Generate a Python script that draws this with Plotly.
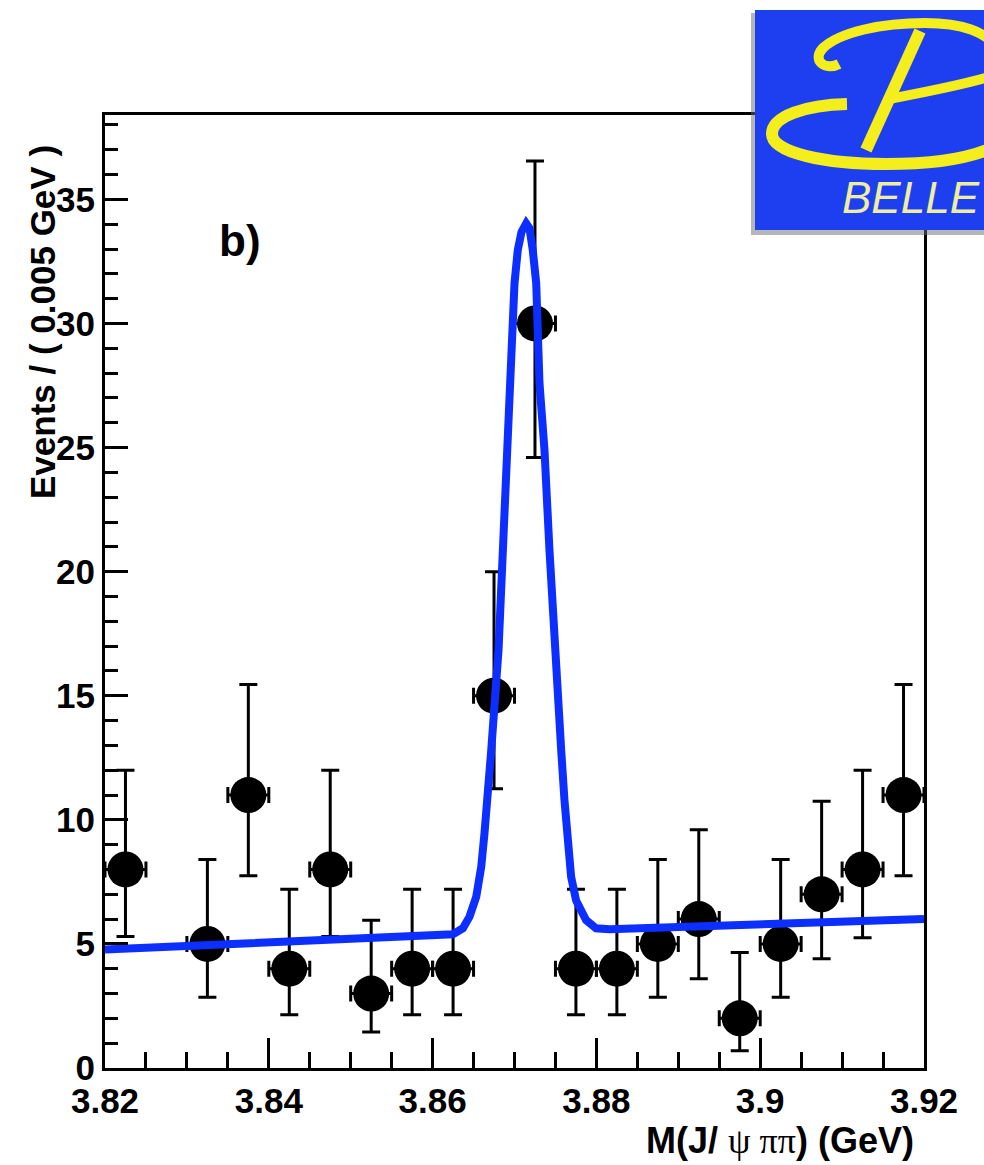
import plotly.graph_objects as go

# ---------------- data ----------------
bin_centers = [3.8225, 3.8325, 3.8375, 3.8425, 3.8475, 3.8525, 3.8575, 3.8625, 3.8675, 3.8725,
               3.8775, 3.8825, 3.8875, 3.8925, 3.8975, 3.9025, 3.9075, 3.9125, 3.9175]
events = [8, 5, 11, 4, 8, 3, 4, 4, 15, 30, 4, 4, 5, 6, 2, 5, 7, 8, 11]
err_plus = [4.0, 3.4, 4.45, 3.2, 4.0, 2.95, 3.2, 3.2, 5.0, 6.55, 3.2, 3.2, 3.4, 3.6, 2.65, 3.4, 3.75, 4.0, 4.45]
err_minus = [2.7, 2.15, 3.25, 1.85, 2.7, 1.55, 1.85, 1.85, 3.75, 5.4, 1.85, 1.85, 2.15, 2.4, 1.3, 2.15, 2.6, 2.75, 3.25]
bin_half_width = [0.0025] * len(bin_centers)

fit_x = [3.8200, 3.86248, 3.86370, 3.86451, 3.86533, 3.86594, 3.86634, 3.86674, 3.86716, 3.86805,
         3.86857, 3.86918, 3.86948, 3.87000, 3.87040, 3.87085, 3.87143, 3.87183, 3.87223, 3.87265,
         3.87305, 3.87366, 3.87427, 3.87488, 3.87570, 3.87610, 3.87650, 3.87691, 3.87752, 3.87874,
         3.87996, 3.88159, 3.9200]
fit_y = [4.77, 5.39, 5.63, 6.10, 6.90, 8.11, 9.47, 10.80, 12.81, 16.84,
         20.87, 24.90, 27.60, 31.62, 32.96, 33.68, 34.03, 33.84, 32.96, 31.63,
         27.60, 24.90, 20.87, 16.84, 12.81, 10.80, 9.05, 7.71, 6.75, 5.96,
         5.63, 5.59, 6.00]

x_tickvals = [3.82, 3.84, 3.86, 3.88, 3.90, 3.92]
x_ticktext = ["3.82", "3.84", "3.86", "3.88", "3.9", "3.92"]
y_tickvals = [0, 5, 10, 15, 20, 25, 30, 35]
y_ticktext = ["0", "5", "10", "15", "20", "25", "30", "35"]

# ---------------- layout geometry ----------------
W, H = 984, 1165
L, R, T, B = 105, 60, 115, 97
PW, PH = W - L - R, H - T - B


def px(x):
    return (x - L) / PW


def py(y):
    return (H - B - y) / PH


def path(cmds):
    out = []
    for c in cmds:
        if isinstance(c, str):
            out.append(c)
        else:
            out.append(f"{px(c[0]):.5f},{py(c[1]):.5f}")
    return " ".join(out)


FONT = "Liberation Sans, Arial, sans-serif"

fig = go.Figure()

fig.add_trace(go.Scatter(
    x=bin_centers, y=events, mode="markers",
    marker=dict(symbol="circle", size=36, color="black"),
    error_y=dict(type="data", symmetric=False, array=err_plus, arrayminus=err_minus,
                 color="black", thickness=3, width=9),
    error_x=dict(type="data", array=bin_half_width, color="black", thickness=3, width=8),
    showlegend=False, hoverinfo="skip",
))

fig.add_trace(go.Scatter(
    x=fit_x, y=fit_y, mode="lines",
    line=dict(color="#0c2eff", width=8, shape="linear"),
    showlegend=False, hoverinfo="skip",
))

axis_common = dict(
    showline=True, linecolor="black", linewidth=3, mirror=True,
    ticks="inside", tickcolor="black", tickwidth=3,
    showgrid=False, zeroline=False,
    tickfont=dict(family=FONT, size=35, color="black", weight="bold"),
)

fig.update_xaxes(
    range=[3.82, 3.92], tickmode="array", tickvals=x_tickvals, ticktext=x_ticktext,
    ticklen=30,
    minor=dict(dtick=0.005, tick0=3.82, ticks="inside", ticklen=16, tickwidth=3, tickcolor="black",
               showgrid=False),
    **axis_common,
)
fig.update_yaxes(
    range=[0, 38.4], tickmode="array", tickvals=y_tickvals, ticktext=y_ticktext,
    ticklen=23,
    minor=dict(dtick=1, tick0=0, ticks="inside", ticklen=13, tickwidth=3, tickcolor="black",
               showgrid=False),
    **axis_common,
)

shapes = []
# logo shadow
shapes.append(dict(type="rect", xref="paper", yref="paper",
                   x0=px(751), x1=px(990), y0=py(13), y1=py(235),
                   fillcolor="rgba(110,110,110,0.5)", line=dict(width=0), layer="above"))
# logo blue background
shapes.append(dict(type="rect", xref="paper", yref="paper",
                   x0=px(755), x1=px(990), y0=py(10), y1=py(230),
                   fillcolor="#1d3ff0", line=dict(width=0), layer="above"))
yellow = "#f4ee1c"
# top arc with curl
shapes.append(dict(type="path", xref="paper", yref="paper", layer="above",
                   path=path(["M", (839, 64), "C", (826, 71), (811, 61), (823, 48),
                              "C", (840, 32), (882, 23), (925, 23),
                              "C", (962, 23), (987, 32), (996, 48)]),
                   line=dict(color=yellow, width=10)))
# stem
shapes.append(dict(type="path", xref="paper", yref="paper", layer="above",
                   path=path(["M", (920, 31), "L", (866, 150)]),
                   line=dict(color=yellow, width=12)))
# middle stroke
shapes.append(dict(type="path", xref="paper", yref="paper", layer="above",
                   path=path(["M", (889, 99), "C", (920, 93), (960, 86), (996, 75)]),
                   line=dict(color=yellow, width=10)))
# bottom swoosh
shapes.append(dict(type="path", xref="paper", yref="paper", layer="above",
                   path=path(["M", (847, 104), "C", (806, 105), (772, 116), (772, 134),
                              "C", (772, 153), (826, 164), (886, 164),
                              "C", (936, 164), (972, 158), (996, 146)]),
                   line=dict(color=yellow, width=12)))

annotations = [
    dict(text="<i>BELLE</i>", xref="paper", yref="paper", x=px(911), y=py(197),
         xanchor="center", yanchor="middle", showarrow=False,
         font=dict(family=FONT, size=44, color="#efeea0")),
    dict(text="<b>b)</b>", xref="paper", yref="paper", x=px(240), y=py(240),
         xanchor="center", yanchor="middle", showarrow=False,
         font=dict(family=FONT, size=44, color="black")),
    dict(text="<b>Events / ( 0.005 GeV )</b>", xref="paper", yref="paper",
         x=px(42), y=py(143), xanchor="center", yanchor="top", textangle=-90,
         showarrow=False, font=dict(family=FONT, size=35, color="black")),
    dict(text="<b>M(J/ </b><span style='font-family:Liberation Serif, serif'>\u03c8 \u03c0\u03c0</span><b>) (GeV)</b>",
         xref="paper", yref="paper", x=px(916), y=py(1140), xanchor="right", yanchor="middle",
         showarrow=False, font=dict(family=FONT, size=36, color="black")),
]

fig.update_layout(
    width=W, height=H,
    margin=dict(l=L, r=R, t=T, b=B, pad=0),
    paper_bgcolor="white", plot_bgcolor="white",
    shapes=shapes, annotations=annotations,
)

fig.write_html("out.html")
